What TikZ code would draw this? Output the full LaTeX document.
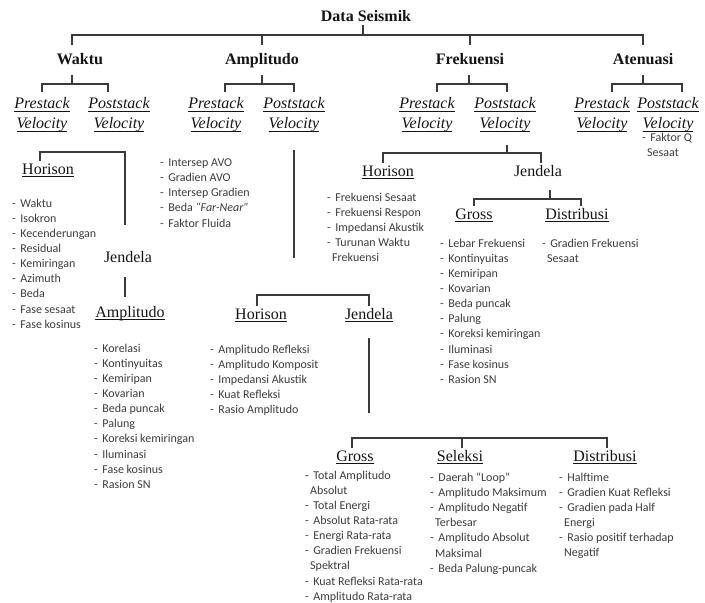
\documentclass[tikz,border=0pt]{standalone}
\usepackage{amsmath}
\usepackage{fontspec}
\setmainfont{Liberation Serif}
\newfontfamily\listfont{Carlito}
\newcommand{\ulin}[1]{\underline{\smash[b]{#1}}}
\newcommand{\itemdash}{-\hspace{4.5pt}}
\newcommand{\itemcont}{\hspace{5pt}}
\definecolor{Ink}{HTML}{141414}
\definecolor{ListInk}{HTML}{3C3C3C}
\definecolor{Wire}{HTML}{3A3A3A}
\tikzset{
  title/.style={font=\fontsize{16}{19}\selectfont\bfseries,text=Ink,text height=11pt,text depth=3pt,inner ysep=1pt},
  head/.style={font=\fontsize{16}{19}\selectfont\bfseries,text=Ink,text height=11pt,text depth=3pt,inner ysep=8pt},
  velo/.style={font=\fontsize{16}{20}\selectfont\itshape,text=Ink,align=center,inner ysep=6pt},
  sub/.style={font=\fontsize{16}{19}\selectfont,text=Ink,text height=11pt,text depth=3pt,inner ysep=2pt},
  items/.style={font=\listfont\fontsize{12}{15.15}\selectfont,text=ListInk,align=left,anchor=north west,inner sep=0pt,yshift=4.5pt},
  conn/.style={draw=Wire,line width=1.1pt}
}

\begin{document}
\begin{tikzpicture}[x=1pt,y=-1pt]
  \useasboundingbox (0,0) rectangle (705,603);
  % top level
  \node[title] (data) at (366,17) {Data Seismik};
  \node[head] (waktu) at (80,60) {Waktu};
  \node[head] (ampl) at (262,60) {Amplitudo};
  \node[head] (frek) at (470,60) {Frekuensi};
  \node[head] (aten) at (643,60) {Atenuasi};
  \coordinate (topbar) at (363,35);
  \draw[conn] (data.south -| topbar) -- (topbar);
  \draw[conn] ([xshift=-8pt]waktu.north) |- (topbar) -| (aten.north);
  \draw[conn] (ampl.north) -- (ampl.north |- topbar);
  \draw[conn] (frek.north) -- (frek.north |- topbar);

  % prestack / poststack
  \node[velo] (wpre) at (42,115) {\ulin{Prestack}\\\ulin{Velocity}};
  \node[velo] (wpost) at (119,115) {\ulin{Poststack}\\\ulin{Velocity}};
  \node[velo] (apre) at (216,115) {\ulin{Prestack}\\\ulin{Velocity}};
  \node[velo] (apost) at (294,115) {\ulin{Poststack}\\\ulin{Velocity}};
  \node[velo] (fpre) at (427,115) {\ulin{Prestack}\\\ulin{Velocity}};
  \node[velo] (fpost) at (505,115) {\ulin{Poststack}\\\ulin{Velocity}};
  \node[velo] (tpre) at (602,115) {\ulin{Prestack}\\\ulin{Velocity}};
  \node[velo] (tpost) at (668,115) {\ulin{Poststack}\\\ulin{Velocity}};
  \coordinate (wbar) at (72,84);
  \draw[conn] (waktu.south -| wbar) -- (wbar);
  \draw[conn] (wpre.north) |- (wbar) -| ([xshift=-11pt]wpost.north);
  \coordinate (abar) at (262,84);
  \draw[conn] (ampl.south) -- (abar);
  \draw[conn] ([xshift=9pt]apre.north) |- (abar) -| (apost.north);
  \coordinate (fbar) at (469,84);
  \draw[conn] (frek.south -| fbar) -- (fbar);
  \draw[conn] ([xshift=10pt]fpre.north) |- (fbar) -| ([xshift=2pt]fpost.north);
  \coordinate (tbar) at (643,84);
  \draw[conn] (aten.south) -- (tbar);
  \draw[conn] ([xshift=10pt]tpre.north) |- (tbar) -| ([xshift=14pt]tpost.north);

  % Waktu
  \node[sub] (whor) at (48,170) {\ulin{Horison}};
  \node[sub] (wjen) at (128,258) {Jendela};
  \node[sub] (wamp) at (130,313) {\ulin{Amplitudo}};
  \coordinate (wcorner) at (125,152);
  \coordinate (wstop) at (125,225);
  \draw[conn] ([xshift=-8pt]whor.north) |- (wcorner) -- (wstop);
  \draw[conn,shorten <=10pt,shorten >=7pt] (wjen.south -| wstop) -- (wamp.north -| wstop);
  \node[items] (whorlist) at (12,203) {\itemdash Waktu\\\itemdash Isokron\\\itemdash Kecenderungan\\\itemdash Residual\\\itemdash Kemiringan\\\itemdash Azimuth\\\itemdash Beda\\\itemdash Fase sesaat\\\itemdash Fase kosinus};
  \node[items] (wamplist) at (94,348) {\itemdash Korelasi\\\itemdash Kontinyuitas\\\itemdash Kemiripan\\\itemdash Kovarian\\\itemdash Beda puncak\\\itemdash Palung\\\itemdash Koreksi kemiringan\\\itemdash Iluminasi\\\itemdash Fase kosinus\\\itemdash Rasion SN};

  % Amplitudo
  \node[items] (aprelist) at (160,163) {\itemdash Intersep AVO\\\itemdash Gradien AVO\\\itemdash Intersep Gradien\\\itemdash Beda \textit{“Far-Near”}\\\itemdash Faktor Fluida};
  \coordinate (aend) at (294,258);
  \draw[conn,shorten <=11.5pt] (apost.south) -- (aend);
  \node[sub] (ahor) at (261,315) {\ulin{Horison}};
  \node[sub] (ajen) at (369,315) {\ulin{Jendela}};
  \coordinate (ajbar) at (300,295);
  \draw[conn] ([xshift=-4pt]ahor.north) |- (ajbar) -| (ajen.north);
  \node[items] (ahorlist) at (210,349) {\itemdash Amplitudo Refleksi\\\itemdash Amplitudo Komposit\\\itemdash Impedansi Akustik\\\itemdash Kuat Refleksi\\\itemdash Rasio Amplitudo};
  \coordinate (ajend) at (369,413);
  \draw[conn,shorten <=14pt] (ajen.south) -- (ajend);
  \node[sub] (agross) at (355,457) {\ulin{Gross}};
  \node[sub] (asel) at (460,457) {\ulin{Seleksi}};
  \node[sub] (adist) at (605,457) {\ulin{Distribusi}};
  \coordinate (agbar) at (462,438);
  \draw[conn] ([xshift=-3pt]agross.north) |- (agbar) -| ([xshift=2pt]adist.north);
  \draw[conn] ([xshift=2pt]asel.north) -- (agbar);
  \node[items] (agrosslist) at (305,475) {\itemdash Total Amplitudo\\\itemcont Absolut\\\itemdash Total Energi\\\itemdash Absolut Rata-rata\\\itemdash Energi Rata-rata\\\itemdash Gradien Frekuensi\\\itemcont Spektral\\\itemdash Kuat Refleksi Rata-rata\\\itemdash Amplitudo Rata-rata};
  \node[items] (asellist) at (430,477) {\itemdash Daerah “Loop”\\\itemdash Amplitudo Maksimum\\\itemdash Amplitudo Negatif\\\itemcont Terbesar\\\itemdash Amplitudo Absolut\\\itemcont Maksimal\\\itemdash Beda Palung-puncak};
  \node[items] (adistlist) at (559,477) {\itemdash Halftime\\\itemdash Gradien Kuat Refleksi\\\itemdash Gradien pada Half\\\itemcont Energi\\\itemdash Rasio positif terhadap\\\itemcont Negatif};

  % Frekuensi
  \node[sub] (fhor) at (388,172) {\ulin{Horison}};
  \node[sub] (fjen) at (538,172) {Jendela};
  \coordinate (fpbar) at (507,153);
  \draw[conn,shorten <=6.5pt] (fpost.south -| fpbar) -- (fpbar);
  \draw[conn] ([xshift=-5pt]fhor.north) |- (fpbar) -| ([xshift=3pt]fjen.north);
  \node[items] (fhorlist) at (327,197) {\itemdash Frekuensi Sesaat\\\itemdash Frekuensi Respon\\\itemdash Impedansi Akustik\\\itemdash Turunan Waktu\\\itemcont Frekuensi};
  \node[sub] (fgross) at (474,215) {\ulin{Gross}};
  \node[sub] (fdist) at (577,215) {\ulin{Distribusi}};
  \coordinate (fjbar) at (550,199);
  \draw[conn,shorten <=9pt] (fjen.south -| fjbar) -- (fjbar);
  \draw[conn] (fgross.north) |- (fjbar) -| ([xshift=4pt]fdist.north);
  \node[items] (fgrosslist) at (440,243) {\itemdash Lebar Frekuensi\\\itemdash Kontinyuitas\\\itemdash Kemiripan\\\itemdash Kovarian\\\itemdash Beda puncak\\\itemdash Palung\\\itemdash Koreksi kemiringan\\\itemdash Iluminasi\\\itemdash Fase kosinus\\\itemdash Rasion SN};
  \node[items] (fdistlist) at (542,243) {\itemdash Gradien Frekuensi\\\itemcont Sesaat};

  % Atenuasi
  \node[items] (tpostlist) at (642,137) {\itemdash Faktor Q\\\itemcont Sesaat};
\end{tikzpicture}
\end{document}
